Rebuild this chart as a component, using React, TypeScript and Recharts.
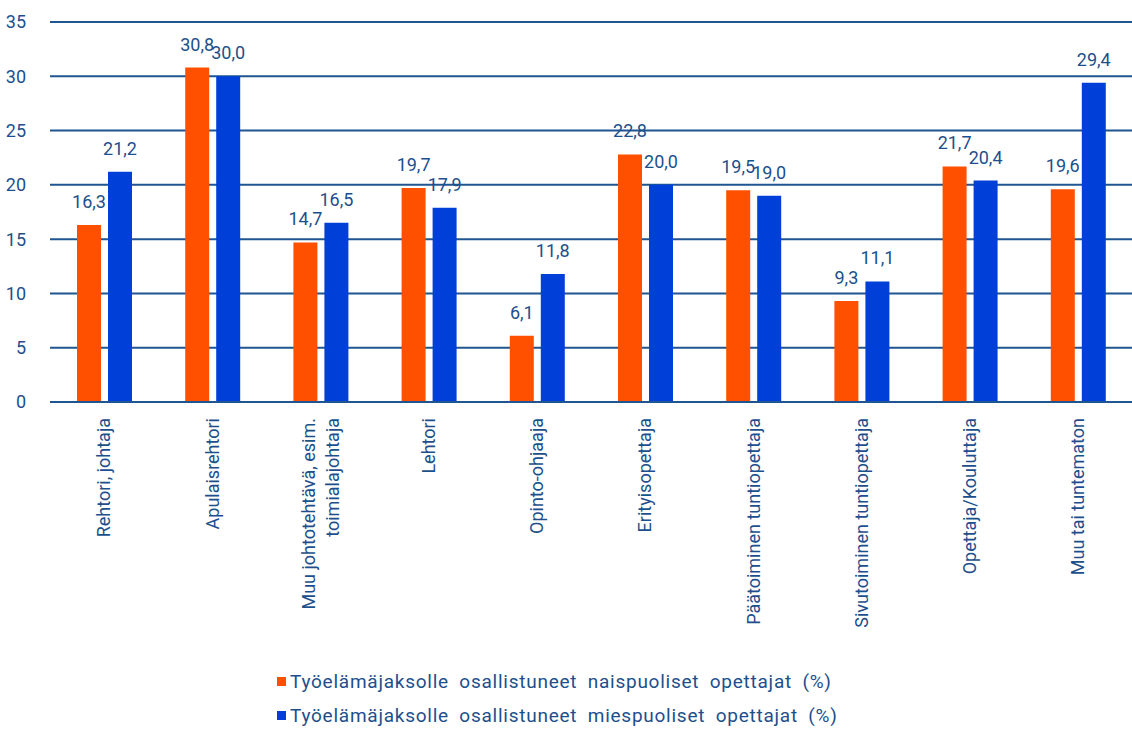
import React from 'react'
import { BarChart, Bar, XAxis, YAxis, CartesianGrid, LabelList } from 'recharts'

const categories = [
  'Rehtori, johtaja',
  'Apulaisrehtori',
  'Muu johtotehtävä, esim.\ntoimialajohtaja',
  'Lehtori',
  'Opinto-ohjaaja',
  'Erityisopettaja',
  'Päätoiminen tuntiopettaja',
  'Sivutoiminen tuntiopettaja',
  'Opettaja/Kouluttaja',
  'Muu tai tuntematon',
]
const naiset = [16.3, 30.8, 14.7, 19.7, 6.1, 22.8, 19.5, 9.3, 21.7, 19.6]
const miehet = [21.2, 30.0, 16.5, 17.9, 11.8, 20.0, 19.0, 11.1, 20.4, 29.4]
const yTicks = [0, 5, 10, 15, 20, 25, 30, 35]
const seriesNames = [
  'Työelämäjaksolle osallistuneet naispuoliset opettajat (%)',
  'Työelämäjaksolle osallistuneet miespuoliset opettajat (%)',
]

const TEXT = '#1d4f8c'
const ORANGE = '#ff5000'
const BLUE = '#0040d8'
const FONT = 'Roboto, "DejaVu Sans", sans-serif'

const data = categories.map((c, i) => ({ name: c, naiset: naiset[i], miehet: miehet[i] }))

const fmt = (v: any) => Number(v).toFixed(1).replace('.', ',')

const CatTick = (props: any) => {
  const { x, y, payload } = props
  const lines = String(payload.value).split('\n')
  const start = 0.35 - (lines.length - 1) * 0.67
  return (
    <g transform={`translate(${x},${y + 8}) rotate(-90)`}>
      <text textAnchor="end" fill={TEXT} fontSize={18} fontFamily={FONT}>
        {lines.map((l, i) => (
          <tspan key={i} x={0} dy={i === 0 ? `${start}em` : '1.35em'}>{l}</tspan>
        ))}
      </text>
    </g>
  )
}

const App = () => {
  return (
    <div style={{ position: 'absolute', left: 0, top: 0, width: 1132, height: 729, background: '#fff' }}>
      <BarChart
        width={1132}
        height={660}
        data={data}
        margin={{ top: 22, right: 0, left: 0, bottom: 0 }}
        barCategoryGap={26}
        barGap={7}
      >
        <CartesianGrid vertical={false} stroke="#1f5591" strokeWidth={2} />
        <XAxis
          dataKey="name"
          interval={0}
          tick={<CatTick />}
          tickLine={false}
          axisLine={{ stroke: '#1f5591', strokeWidth: 2 }}
          height={258}
        />
        <YAxis
          domain={[0, 35]}
          ticks={yTicks}
          width={50}
          axisLine={false}
          tickLine={false}
          tickMargin={18}
          tick={{ fill: TEXT, fontSize: 18, fontFamily: FONT }}
        />
        <Bar dataKey="naiset" fill={ORANGE} barSize={24} isAnimationActive={false}>
          <LabelList dataKey="naiset" position="top" offset={17} formatter={fmt} fill={TEXT} fontSize={18} fontFamily={FONT} />
        </Bar>
        <Bar dataKey="miehet" fill={BLUE} barSize={24} isAnimationActive={false}>
          <LabelList dataKey="miehet" position="top" offset={17} formatter={fmt} fill={TEXT} fontSize={18} fontFamily={FONT} />
        </Bar>
      </BarChart>
      <div style={{ position: 'absolute', left: 277, top: 664, fontFamily: FONT, fontSize: 19, color: TEXT, wordSpacing: 5, letterSpacing: 0.75 }}>
        {seriesNames.map((n, i) => (
          <div key={n} style={{ display: 'flex', alignItems: 'center', height: 34 }}>
            <span style={{ display: 'inline-block', width: 9, height: 9, background: i === 0 ? ORANGE : BLUE, marginRight: 4 }} />
            <span>{n}</span>
          </div>
        ))}
      </div>
    </div>
  )
}

export default App
